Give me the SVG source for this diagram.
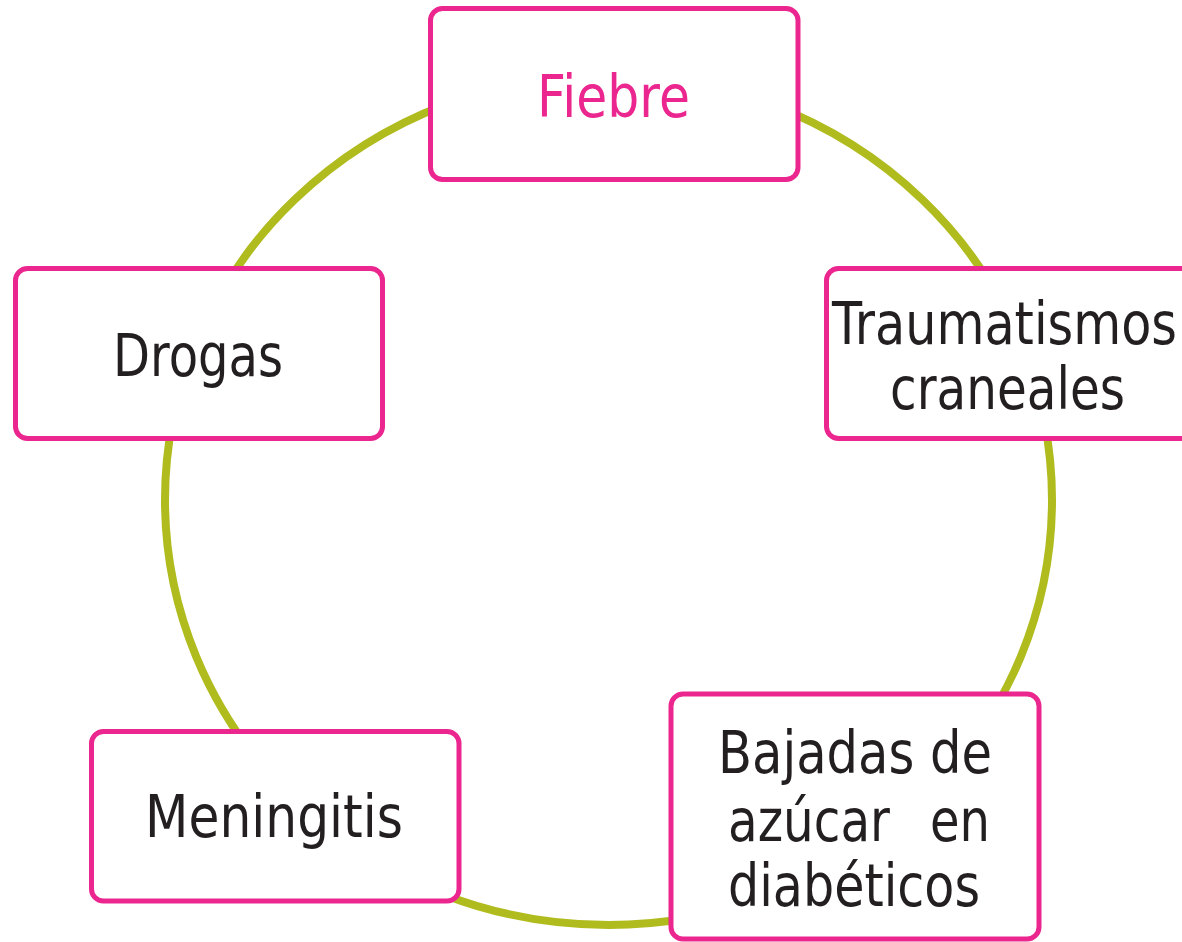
<svg xmlns="http://www.w3.org/2000/svg" width="1182" height="942" viewBox="0 0 1182 942">
<style>
.box{fill:#ffffff;stroke:#EC268F;stroke-width:5}
.ring{fill:none;stroke:#B0BB1E;stroke-width:8}
.t{font-family:"DejaVu Sans","Liberation Sans",sans-serif;font-size:59px;fill:#231F20}
.pink{fill:#EC268F}
</style>
<rect width="1182" height="942" fill="#ffffff"/>
<g id="connectors">
<ellipse class="ring" cx="608.5" cy="500" rx="443.5" ry="425"/>
</g>
<g id="fiebre">
<rect class="box" x="430.5" y="8.5" width="367.5" height="171" rx="12"/>
<text class="t pink" x="537" y="117" textLength="153" lengthAdjust="spacingAndGlyphs">Fiebre</text>
</g>
<g id="drogas">
<rect class="box" x="15.5" y="268.5" width="367" height="170" rx="12"/>
<text class="t" x="113" y="376" textLength="170" lengthAdjust="spacingAndGlyphs">Drogas</text>
</g>
<g id="traumatismos">
<rect class="box" x="826.5" y="268.5" width="367" height="170" rx="12"/>
<text class="t" x="832" y="344" textLength="345" lengthAdjust="spacingAndGlyphs">Traumatismos</text>
<text class="t" x="890" y="409" textLength="235" lengthAdjust="spacingAndGlyphs">craneales</text>
</g>
<g id="meningitis">
<rect class="box" x="91.5" y="731.5" width="367.5" height="169.5" rx="12"/>
<text class="t" x="145" y="837" textLength="258" lengthAdjust="spacingAndGlyphs">Meningitis</text>
</g>
<g id="bajadas">
<rect class="box" x="671" y="694" width="368" height="245" rx="12"/>
<text class="t" x="718" y="773" textLength="274" lengthAdjust="spacingAndGlyphs">Bajadas de</text>
<text class="t" y="841"><tspan x="728" textLength="162" lengthAdjust="spacingAndGlyphs">azúcar</tspan><tspan x="930" textLength="60" lengthAdjust="spacingAndGlyphs">en</tspan></text>
<text class="t" x="728" y="906" textLength="252" lengthAdjust="spacingAndGlyphs">diabéticos</text>
</g>
</svg>
